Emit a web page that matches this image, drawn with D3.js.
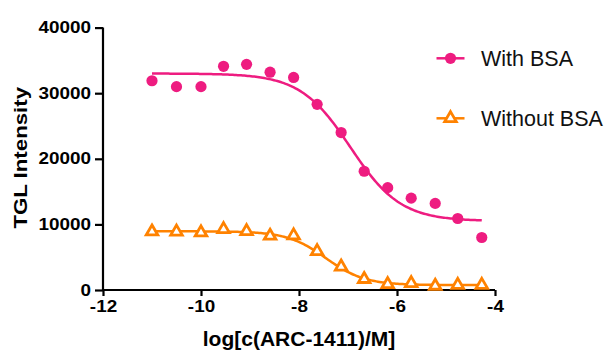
<!DOCTYPE html>
<html>
<head>
<meta charset="utf-8">
<script src="https://cdn.jsdelivr.net/npm/d3@7"></script>
<style>
  body { margin: 0; background: #fff; }
  svg { display: block; }
  text { font-family: Arial, "Liberation Sans", sans-serif; }
</style>
</head>
<body>
<div id="myChart"></div>
<script>
// log concentration for each well
var logConc = [-11, -10.5, -10, -9.54, -9.07, -8.59, -8.11, -7.63, -7.14, -6.67, -6.19, -5.71, -5.22, -4.76, -4.27];
var withBSA = [31900, 31000, 31000, 34100, 34400, 33200, 32400, 28300, 24000, 18100, 15600, 14000, 13200, 10900, 8000];
var withoutBSA = [8900, 8870, 8750, 9250, 8950, 8250, 8300, 5900, 3550, 1650, 870, 1020, 620, 760, 760];

// four parameter fit: [top, bottom, logIC50, hill]
var fitWith = [33000, 10500, -6.95, 0.85];
var fitWithout = [8950, 750, -7.45, 1.1];

var xTicks = [-12, -10, -8, -6, -4];
var yTicks = [0, 10000, 20000, 30000, 40000];
var seriesNames = ["With BSA", "Without BSA"];

var pink = "#ee1c80";
var orange = "#ff8200";

var margin = { top: 27.6, right: 109, bottom: 61, left: 103 },
    width = 604 - margin.left - margin.right,
    height = 351 - margin.top - margin.bottom;

var x = d3.scaleLinear().domain([-12, -4]).range([0, width]);
var y = d3.scaleLinear().domain([0, 40000]).range([height, 0]);

var svg = d3.select("#myChart")
    .append("svg")
    .attr("width", 604)
    .attr("height", 351)
    .append("g")
    .attr("transform", "translate(" + margin.left + "," + margin.top + ")");

function stretch(sel, k) {
    sel.each(function () {
        var len = this.getComputedTextLength();
        d3.select(this).attr("textLength", len * k).attr("lengthAdjust", "spacingAndGlyphs");
    });
}

//y axis
var yAxis = svg.append("g")
    .call(d3.axisLeft(y).tickValues(yTicks).tickSize(8).tickPadding(4).tickFormat(d3.format("d")));
//x axis
var xAxis = svg.append("g")
    .attr("transform", "translate(0," + height + ")")
    .call(d3.axisBottom(x).tickValues(xTicks).tickSize(6).tickPadding(5).tickFormat(d3.format("d")));

[yAxis, xAxis].forEach(function (ax) {
    ax.select(".domain").attr("stroke", "#000").attr("stroke-width", 2.2)
        .attr("d", ax === yAxis ? "M0," + height + "V0" : "M0,0H" + width);
    ax.selectAll(".tick line").attr("stroke", "#000").attr("stroke-width", 2.2);
    ax.selectAll(".tick text")
        .attr("fill", "#000")
        .style("font-size", "16px")
        .style("font-weight", "bold");
});
xAxis.selectAll(".tick text").text(function (d) { return d < 0 ? "-" + Math.abs(d) : d; });
stretch(yAxis.selectAll(".tick text"), 1.18);
stretch(xAxis.selectAll(".tick text"), 1.18);

//axis titles
svg.append("text")
    .attr("x", width / 2)
    .attr("y", height + 56.5)
    .attr("text-anchor", "middle")
    .style("font-size", "21px")
    .style("font-weight", "bold")
    .text("log[c(ARC-1411)/M]");

var yt = svg.append("text")
    .attr("transform", "translate(" + (27 - margin.left) + "," + (height / 2 - 1) + ") rotate(-90)")
    .attr("text-anchor", "middle")
    .style("font-size", "19px")
    .style("font-weight", "bold")
    .text("TGL Intensity");
stretch(yt, 1.17);

//fit curves
function fitLine(p) {
    var xs = d3.range(0, 201).map(function (i) { return logConc[0] + (logConc[logConc.length - 1] - logConc[0]) * i / 200; });
    return xs.map(function (v) {
        return [v, p[1] + (p[0] - p[1]) / (1 + Math.pow(10, (v - p[2]) * p[3]))];
    });
}
var line = d3.line()
    .x(function (d) { return x(d[0]); })
    .y(function (d) { return y(d[1]); });

svg.append("path").datum(fitLine(fitWith))
    .attr("d", line).attr("fill", "none").attr("stroke", pink).attr("stroke-width", 2.5);
svg.append("path").datum(fitLine(fitWithout))
    .attr("d", line).attr("fill", "none").attr("stroke", orange).attr("stroke-width", 2.5);

//points
var tri = d3.symbol().type(d3.symbolTriangle).size(58);

svg.selectAll(".dot")
    .data(withBSA)
    .enter().append("circle")
    .attr("cx", function (d, i) { return x(logConc[i]); })
    .attr("cy", function (d) { return y(d); })
    .attr("r", 5.6)
    .attr("fill", pink);

svg.selectAll(".tri")
    .data(withoutBSA)
    .enter().append("path")
    .attr("d", tri)
    .attr("transform", function (d, i) { return "translate(" + x(logConc[i]) + "," + y(d) + ")"; })
    .attr("fill", "#fff")
    .attr("stroke", orange)
    .attr("stroke-width", 2.8);

//legend
var legend = svg.append("g").attr("transform", "translate(" + (436.5 - margin.left) + "," + (58.3 - margin.top) + ")");
seriesNames.forEach(function (name, i) {
    var g = legend.append("g").attr("transform", "translate(0," + (i * 60) + ")");
    var col = i === 0 ? pink : orange;
    g.append("line").attr("x1", 0).attr("x2", 28).attr("y1", 0).attr("y2", 0)
        .attr("stroke", col).attr("stroke-width", 2.5);
    if (i === 0) {
        g.append("circle").attr("cx", 14).attr("cy", 0).attr("r", 5.6).attr("fill", col);
    } else {
        g.append("path").attr("d", tri).attr("transform", "translate(14,0)")
            .attr("fill", "#fff").attr("stroke", col).attr("stroke-width", 2.8);
    }
    g.append("text")
        .attr("x", 44.5)
        .attr("y", 7.7)
        .style("font-size", "21.5px")
        .attr("fill", "#111")
        .text(name);
});
</script>
</body>
</html>
